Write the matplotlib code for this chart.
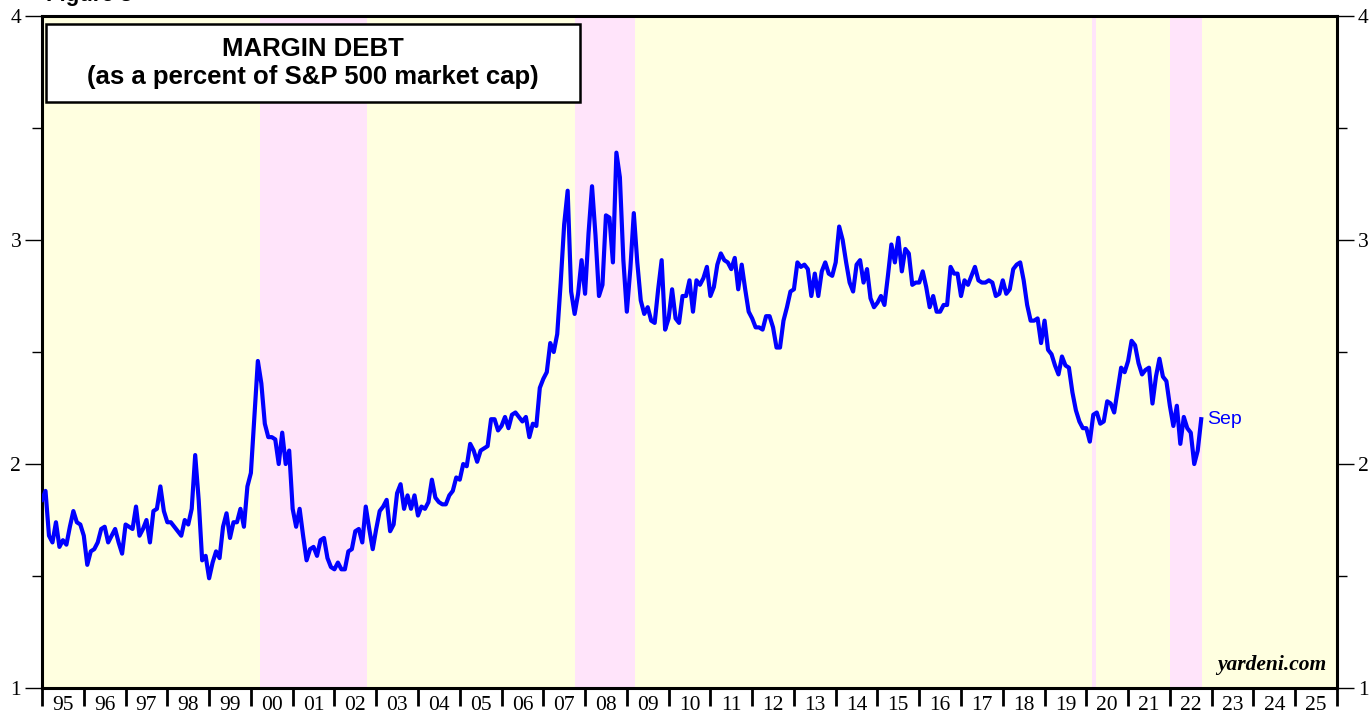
import numpy as np
import matplotlib.pyplot as plt
from matplotlib.patches import Rectangle

# Margin debt as % of S&P 500 market cap, monthly from Jan 1995
y1995 = [1.84, 1.88, 1.68, 1.65, 1.74, 1.63, 1.66, 1.64, 1.72, 1.79, 1.74, 1.73]
y1996 = [1.68, 1.55, 1.61, 1.62, 1.65, 1.71, 1.72, 1.65, 1.68, 1.71, 1.65, 1.60]
y1997 = [1.73, 1.72, 1.71, 1.81, 1.68, 1.71, 1.75, 1.65, 1.79, 1.80, 1.90, 1.79]
y1998 = [1.74, 1.74, 1.72, 1.70, 1.68, 1.75, 1.73, 1.80, 2.04, 1.84, 1.57, 1.59]
y1999 = [1.49, 1.56, 1.61, 1.58, 1.72, 1.78, 1.67, 1.74, 1.74, 1.80, 1.72, 1.90]
y2000 = [1.96, 2.21, 2.46, 2.36, 2.18, 2.12, 2.12, 2.11, 2.00, 2.14, 2.00, 2.06]
y2001 = [1.80, 1.72, 1.80, 1.68, 1.57, 1.62, 1.63, 1.59, 1.66, 1.67, 1.58, 1.54]
y2002 = [1.53, 1.56, 1.53, 1.53, 1.61, 1.62, 1.70, 1.71, 1.65, 1.81, 1.71, 1.62]
y2003 = [1.71, 1.79, 1.81, 1.84, 1.70, 1.73, 1.87, 1.91, 1.80, 1.86, 1.80, 1.86]
y2004 = [1.77, 1.81, 1.80, 1.83, 1.93, 1.85, 1.83, 1.82, 1.82, 1.86, 1.88, 1.94]
y2005 = [1.93, 2.00, 1.99, 2.09, 2.06, 2.01, 2.06, 2.07, 2.08, 2.20, 2.20, 2.15]
y2006 = [2.17, 2.21, 2.16, 2.22, 2.23, 2.21, 2.19, 2.21, 2.12, 2.18, 2.17, 2.34]
y2007 = [2.38, 2.41, 2.54, 2.50, 2.58, 2.81, 3.07, 3.22, 2.77, 2.67, 2.76, 2.91]
y2008 = [2.76, 3.03, 3.24, 3.02, 2.75, 2.80, 3.11, 3.10, 2.90, 3.39, 3.28, 2.91]
y2009 = [2.68, 2.87, 3.12, 2.90, 2.73, 2.67, 2.70, 2.64, 2.63, 2.78, 2.91, 2.60]
y2010 = [2.65, 2.78, 2.65, 2.63, 2.75, 2.75, 2.82, 2.68, 2.82, 2.80, 2.83, 2.88]
y2011 = [2.75, 2.79, 2.89, 2.94, 2.91, 2.90, 2.87, 2.92, 2.78, 2.89, 2.78, 2.68]
y2012 = [2.65, 2.61, 2.61, 2.60, 2.66, 2.66, 2.61, 2.52, 2.52, 2.64, 2.70, 2.77]
y2013 = [2.78, 2.90, 2.88, 2.89, 2.87, 2.75, 2.85, 2.75, 2.86, 2.90, 2.85, 2.84]
y2014 = [2.90, 3.06, 3.00, 2.90, 2.81, 2.77, 2.89, 2.91, 2.81, 2.87, 2.74, 2.70]
y2015 = [2.72, 2.75, 2.71, 2.84, 2.98, 2.90, 3.01, 2.86, 2.96, 2.94, 2.80, 2.81]
y2016 = [2.81, 2.86, 2.79, 2.70, 2.75, 2.68, 2.68, 2.71, 2.71, 2.88, 2.85, 2.85]
y2017 = [2.75, 2.82, 2.80, 2.84, 2.88, 2.82, 2.81, 2.81, 2.82, 2.81, 2.75, 2.76]
y2018 = [2.82, 2.76, 2.78, 2.87, 2.89, 2.90, 2.82, 2.71, 2.64, 2.64, 2.65, 2.54]
y2019 = [2.64, 2.51, 2.49, 2.44, 2.40, 2.48, 2.44, 2.43, 2.32, 2.24, 2.19, 2.16]
y2020 = [2.16, 2.10, 2.22, 2.23, 2.18, 2.19, 2.28, 2.27, 2.23, 2.33, 2.43, 2.41]
y2021 = [2.46, 2.55, 2.53, 2.45, 2.40, 2.42, 2.43, 2.27, 2.39, 2.47, 2.39, 2.37]
y2022 = [2.26, 2.17, 2.26, 2.09, 2.21, 2.16, 2.14, 2.00, 2.06, 2.20]

margin = (y1995 + y1996 + y1997 + y1998 + y1999 + y2000 + y2001 + y2002
          + y2003 + y2004 + y2005 + y2006 + y2007 + y2008 + y2009 + y2010
          + y2011 + y2012 + y2013 + y2014 + y2015 + y2016 + y2017 + y2018
          + y2019 + y2020 + y2021 + y2022)
dates = 1995 + np.arange(len(margin)) / 12

# bear markets (decimal years)
bear_start = [2000.23, 2007.77, 2020.13, 2022.0]
bear_end = [2002.78, 2009.19, 2020.22, 2022.78]

years = list(range(1995, 2026))
year_labels = [f"{y % 100:02d}" for y in years]

serif = 'Liberation Serif'

fig = plt.figure(figsize=(13.69, 7.17), dpi=100)
ax = fig.add_axes([0.0307, 0.0404, 0.9459, 0.9373])
ax.set_facecolor('#ffffe0')

for a, b in zip(bear_start, bear_end):
    ax.axvspan(a, b, color='#ffe4fa', lw=0, zorder=0)

ax.plot(dates, margin, color='#0000ff', lw=3, solid_joinstyle='round', zorder=3)
ax.text(dates[-1] + 0.15, margin[-1], 'Sep', color='#0000ff', fontsize=14,
        family='Liberation Sans', va='center', ha='left')

ax.set_xlim(1995, 2026)
ax.set_ylim(1, 4)

for s in ax.spines.values():
    s.set_linewidth(2.2)

ax.set_yticks([1, 2, 3, 4])
ax.set_yticks([1.5, 2.5, 3.5], minor=True)
ax.tick_params(axis='y', which='major', direction='out', length=12, width=1,
               left=True, right=True, labelleft=True, labelright=True, labelsize=15.5, pad=3)
ax.tick_params(axis='y', which='minor', direction='out', length=7, width=1,
               left=True, right=True)

ax.set_xticks(list(range(1995, 2027)))
ax.set_xticklabels([])
ax.set_xticks([y + 0.5 for y in years], minor=True)
ax.set_xticklabels(year_labels, minor=True)
ax.tick_params(axis='x', which='major', direction='out', length=13, width=2)
ax.tick_params(axis='x', which='minor', length=0, labelsize=15.5, pad=6)
for lab in ax.get_xticklabels(minor=True):
    lab.set_family(serif)
for t in ax.yaxis.get_major_ticks():
    t.label1.set_family(serif)
    t.label2.set_family(serif)

# title box
fig.patches.append(Rectangle((46 / 1369, 1 - 102 / 717), 534 / 1369, 78 / 717,
                             transform=fig.transFigure, facecolor='white',
                             edgecolor='black', lw=1.8, zorder=5))
fig.text(313 / 1369, 1 - 49 / 717, 'MARGIN DEBT', ha='center', va='center',
         fontsize=18.5, fontweight='bold', family='Liberation Sans', zorder=6)
fig.text(313 / 1369, 1 - 77 / 717, '(as a percent of S&P 500 market cap)', ha='center',
         va='center', fontsize=18.5, fontweight='bold', family='Liberation Sans', zorder=6)

# figure caption, mostly cut off at the top edge (as in the source)
fig.text(46 / 1369, 1 + 4 / 717, 'Figure 8', ha='left', va='center',
         fontsize=16, fontweight='bold', family='Liberation Sans')

ax.text(0.992, 0.02, 'yardeni.com', transform=ax.transAxes, ha='right', va='bottom',
        fontsize=15.5, fontweight='bold', fontstyle='italic', family=serif)

fig.savefig('out.png', dpi=100)
